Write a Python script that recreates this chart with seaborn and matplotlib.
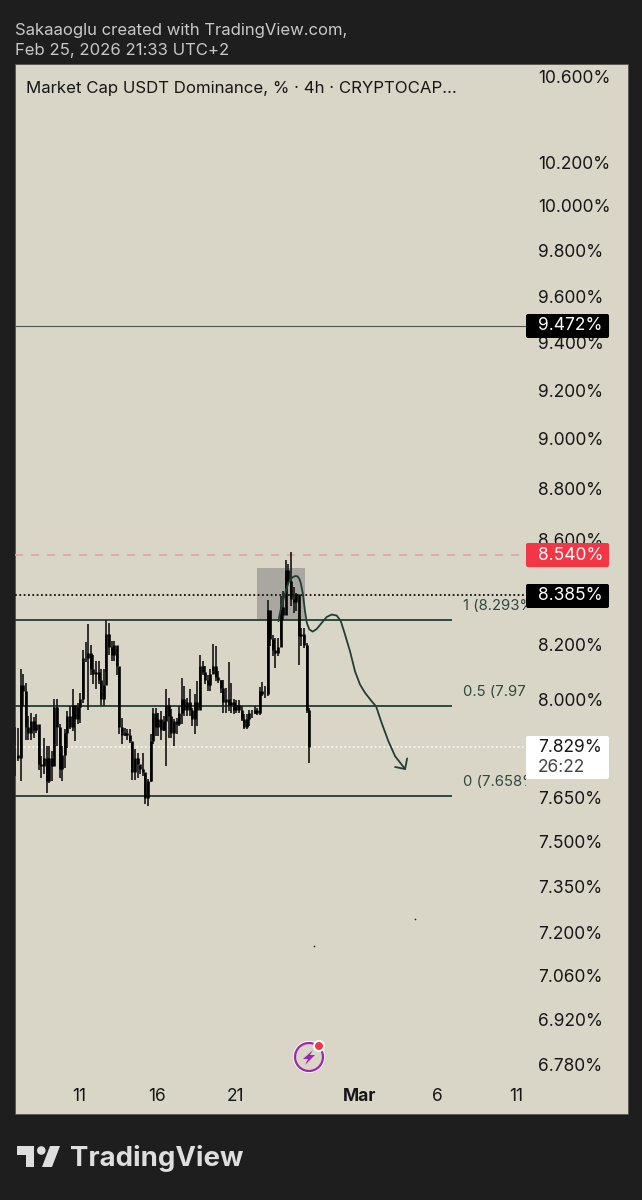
import numpy as np
import matplotlib
matplotlib.use('Agg')
import matplotlib.pyplot as plt
import seaborn as sns
from matplotlib.patches import Rectangle, FancyBboxPatch, Circle, Polygon
from matplotlib.transforms import IdentityTransform
from matplotlib.ticker import NullLocator

# 4h candles, last one is Feb 25 18:00, x axis is "day of Feb" (Mar 1 = 29)
highs = [7.899,7.897,8.110,8.093,8.057,7.938,7.951,7.936,7.945,7.885,7.796,7.861,7.831,7.831,7.814,7.999,7.999,7.909,7.831,7.891,
         7.957,7.974,8.035,7.951,7.987,8.023,8.181,8.208,8.278,8.200,8.163,8.138,8.138,8.108,8.110,8.293,8.281,8.212,8.212,8.184,
         8.117,7.933,7.897,7.891,7.891,7.843,7.821,7.808,7.761,7.806,7.737,7.715,7.873,7.968,7.968,7.951,7.957,7.938,8.035,8.005,
         7.965,7.927,7.933,7.974,8.077,8.047,8.005,8.035,7.968,8.020,8.065,8.162,8.138,8.120,8.089,8.108,8.203,8.193,8.101,8.071,
         8.068,8.041,8.135,8.059,8.002,7.996,7.996,7.974,7.945,7.945,7.962,7.962,7.974,7.968,8.044,8.061,8.049,8.368,8.312,8.237,
         8.225,8.225,8.381,8.400,8.521,8.505,8.550,8.418,8.393,8.318,8.263,8.263,8.206,7.968]
lows = [7.726,7.778,7.709,7.974,7.855,7.855,7.855,7.861,7.879,7.747,7.720,7.732,7.666,7.703,7.709,7.796,7.831,7.720,7.709,7.755,
        7.824,7.891,7.885,7.849,7.909,7.915,7.987,8.135,7.960,8.089,8.053,8.035,8.053,7.974,7.974,8.098,8.163,8.138,8.138,8.089,
        7.873,7.840,7.867,7.855,7.843,7.712,7.712,7.720,7.732,7.726,7.629,7.623,7.706,7.838,7.867,7.867,7.855,7.885,7.761,7.861,
        7.861,7.833,7.873,7.903,7.909,7.938,7.938,7.938,7.903,7.875,7.903,7.968,8.089,8.053,8.029,8.029,8.101,8.065,8.059,8.023,
        7.951,7.951,7.957,7.951,7.945,7.951,7.951,7.920,7.891,7.891,7.903,7.933,7.945,7.941,7.941,8.010,8.005,8.010,8.193,8.156,
        8.114,8.156,8.218,8.293,8.400,8.432,8.343,8.318,8.324,8.126,8.193,8.188,7.951,7.773]
closes = [7.80,7.79,8.05,8.03,7.90,7.88,7.92,7.89,7.91,7.77,7.76,7.79,7.71,7.79,7.76,7.97,7.90,7.75,7.80,7.88,
          7.94,7.90,7.98,7.93,7.97,8.00,8.15,8.15,8.17,8.11,8.09,8.10,8.07,8.00,8.05,8.24,8.19,8.16,8.20,8.12,
          7.90,7.87,7.88,7.87,7.85,7.74,7.79,7.77,7.75,7.74,7.65,7.71,7.85,7.95,7.90,7.93,7.89,7.92,7.98,7.94,
          7.88,7.92,7.91,7.95,8.00,7.96,7.99,7.96,7.93,7.99,7.96,8.12,8.10,8.07,8.05,8.09,8.12,8.08,8.07,8.04,
          7.99,8.00,7.98,7.99,7.96,7.98,7.96,7.93,7.90,7.93,7.95,7.95,7.96,7.95,8.03,8.02,8.02,8.33,8.22,8.18,
          8.17,8.19,8.34,8.31,8.48,8.44,8.37,8.36,8.39,8.23,8.24,8.20,7.96,7.829]
last_bar_day = 25.75

# hand drawn forecast line + arrow head
curve_day = [23.78,23.93,24.10,24.27,24.42,24.57,24.74,24.87,25.00,25.12,25.21,25.34,25.47,25.60,25.76,25.98,26.24,
             26.56,26.88,27.20,27.52,27.78,28.05,28.37,28.69,29.01,29.33,29.76,30.04,30.40,30.83,31.26,31.90]
curve_val = [8.287,8.331,8.368,8.404,8.432,8.447,8.455,8.458,8.457,8.447,8.432,8.394,8.331,8.281,8.256,8.248,8.258,
             8.281,8.303,8.312,8.308,8.287,8.237,8.175,8.101,8.053,8.023,7.992,7.974,7.914,7.849,7.796,7.751]
head_day = [31.26,31.90,32.03]
head_val = [7.758,7.751,7.788]

fib_levels = [8.293, 7.976, 7.658]
fib_labels = ['1 (8.293%)', '0.5 (7.976%)', '0 (7.658%)']
fib_end_day = 34.91
fib_label_day = 35.6

box_days = [22.41, 25.49]
box_vals = [8.293, 8.490]

stray_day = [32.54, 26.06]
stray_val = [7.241, 7.156]

price_ticks = [10.6,10.2,10.0,9.8,9.6,9.4,9.2,9.0,8.8,8.6,8.2,8.0,7.65,7.5,7.35,7.2,7.06,6.92,6.78]
price_labels = ['10.600%','10.200%','10.000%','9.800%','9.600%','9.400%','9.200%','9.000%','8.800%','8.600%',
                '8.200%','8.000%','7.650%','7.500%','7.350%','7.200%','7.060%','6.920%','6.780%']
day_ticks = [11, 16, 21, 29, 34, 39]
day_labels = ['11', '16', '21', 'Mar', '6', '11']

sns.set_style('white')
plt.rcParams['font.family'] = ['Inter', 'DejaVu Sans']

DARK = '#1e1e1e'
PANEL = '#d9d6c8'
GREEN = '#1f3f35'
W, H = 642, 1200

fig = plt.figure(figsize=(6.42, 12), dpi=100, facecolor=DARK)
ident = IdentityTransform()

def py(y):
    return H - y

# panel behind plot and price scale
fig.add_artist(Rectangle((15, py(1114)), 613, 1050, transform=ident, fc=PANEL, ec='#55554f', lw=0.6, zorder=-5))

ax = fig.add_axes([15 / W, (H - 1114) / H, 511 / W, 1050 / H])
ax.patch.set_alpha(0)
ax.set_yscale('log')
ax.set_xlim(6.897, 39.65)
ax.set_ylim(6.631, 10.6625)
sns.despine(ax=ax, left=True, bottom=True, top=True, right=True)

ax.yaxis.tick_right()
ax.set_yticks(price_ticks)
ax.set_yticklabels(price_labels, ha='left', fontsize=12.5, color='#161616')
ax.yaxis.set_minor_locator(NullLocator())
ax.tick_params(axis='y', which='both', length=0, pad=8.6)
ax.set_xticks(day_ticks)
ax.set_xticklabels(day_labels, fontsize=12.5, color='#161616')
ax.get_xticklabels()[3].set_fontweight('bold')
ax.tick_params(axis='x', length=0, pad=-19)

# grey box
ax.add_patch(Rectangle((box_days[0], box_vals[0]), box_days[1] - box_days[0], box_vals[1] - box_vals[0],
                       fc='#a9a79f', ec='none', zorder=1))

# horizontal levels
ax.axhline(9.472, color='#55554f', lw=0.8, zorder=2)
ax.axhline(8.54, color='#e9a3a0', lw=1.2, dashes=(4.8, 4.8), zorder=2)
ax.axhline(8.385, color='#111111', lw=1.3, dashes=(1.0, 1.4), zorder=2)
ax.axhline(7.829, color='#f7f6f0', lw=1.3, dashes=(1.0, 1.4), zorder=2)
ax.hlines(fib_levels, 6.897, fib_end_day, color=GREEN, lw=1.3, zorder=2)
for lev, lab in zip(fib_levels, fib_labels):
    ax.annotate(lab, (fib_label_day, lev), xytext=(0, 10), textcoords='offset points', va='center',
                fontsize=10.7, color='#2d4a40', clip_on=True)

# candles
closes_arr = np.array(closes)
opens_arr = np.r_[closes_arr[0], closes_arr[:-1]]
bar_days = last_bar_day - (len(closes) - 1 - np.arange(len(closes))) / 6
ax.vlines(bar_days, lows, highs, color='#1c1c1c', lw=1.25, zorder=3)
ax.vlines(bar_days, opens_arr, closes_arr, color='#000000', lw=1.9, zorder=3)

# forecast
sns.lineplot(x=curve_day, y=curve_val, sort=False, ax=ax, color=GREEN, lw=1.3, zorder=4, errorbar=None,
             solid_joinstyle='round')
sns.lineplot(x=head_day, y=head_val, sort=False, ax=ax, color=GREEN, lw=1.3, zorder=4, errorbar=None)
ax.set_xlabel('')
ax.set_ylabel('')

ax.scatter(stray_day, stray_val, s=1.5, color='#222222', linewidths=0, zorder=3)
fig.canvas.draw()


def tag(top, bottom, bg, fg, text):
    fig.add_artist(FancyBboxPatch((527.5, py(bottom) + 1.5), 80, bottom - top - 3, boxstyle='round,pad=1.5,rounding_size=2',
                                  transform=ident, fc=bg, ec='none', zorder=6))
    fig.text(538 / W, (H - (top + bottom) / 2) / H, text, color=fg, fontsize=12.5, va='center', ha='left', zorder=7)


tag(314, 338, '#000000', '#ffffff', '9.472%')
tag(543, 567, '#f23645', '#ffffff', '8.540%')
tag(584, 608, '#000000', '#ffffff', '8.385%')
tag(736, 779, '#ffffff', '#161616', '')
fig.text(538 / W, (H - 748) / H, '7.829%', color='#161616', fontsize=12.5, va='center', zorder=7)
fig.text(538 / W, (H - 768) / H, '26:22', color='#444444', fontsize=12.5, va='center', zorder=7)

# header
fig.text(15 / W, (H - 30) / H, 'Sakaaoglu created with TradingView.com,', color='#c9c9c9', fontsize=12, va='center')
fig.text(15 / W, (H - 50) / H, 'Feb 25, 2026 21:33 UTC+2', color='#c9c9c9', fontsize=12, va='center')
fig.text(26 / W, (H - 88) / H, 'Market Cap USDT Dominance, % · 4h · CRYPTOCAP...', color='#161616', fontsize=12.1, va='center')

# lightning icon
fig.add_artist(Circle((309, py(1057)), 16, transform=ident, fc='#ffffff', ec='none', zorder=6))
fig.add_artist(Circle((309, py(1057)), 14, transform=ident, fc=PANEL, ec='#9c27b0', lw=1.6, zorder=6))
fig.add_artist(Polygon([(313, py(1050)), (303, py(1059)), (308, py(1059)), (305, py(1065)), (315, py(1055)), (310, py(1055))],
                       closed=True, transform=ident, fc='#9c27b0', ec='none', zorder=7))
fig.add_artist(Circle((319, py(1046)), 6, transform=ident, fc='#ffffff', ec='none', zorder=7))
fig.add_artist(Circle((319, py(1046)), 4, transform=ident, fc='#f23645', ec='none', zorder=8))

# TradingView logo
LOGO = '#dedede'
fig.add_artist(Polygon([(17, py(1146)), (34, py(1146)), (34, py(1167)), (26, py(1167)), (26, py(1155)), (17, py(1155))],
                       closed=True, transform=ident, fc=LOGO, ec='none'))
fig.add_artist(Circle((41.3, py(1150.5)), 4.3, transform=ident, fc=LOGO, ec='none'))
fig.add_artist(Polygon([(50, py(1146)), (60, py(1146)), (52, py(1167)), (42, py(1167))],
                       closed=True, transform=ident, fc=LOGO, ec='none'))
fig.text(70 / W, (H - 1158) / H, 'TradingView', color=LOGO, fontsize=19.85, fontweight='bold', va='center')

fig.savefig('out.png', dpi=100, facecolor=DARK)
